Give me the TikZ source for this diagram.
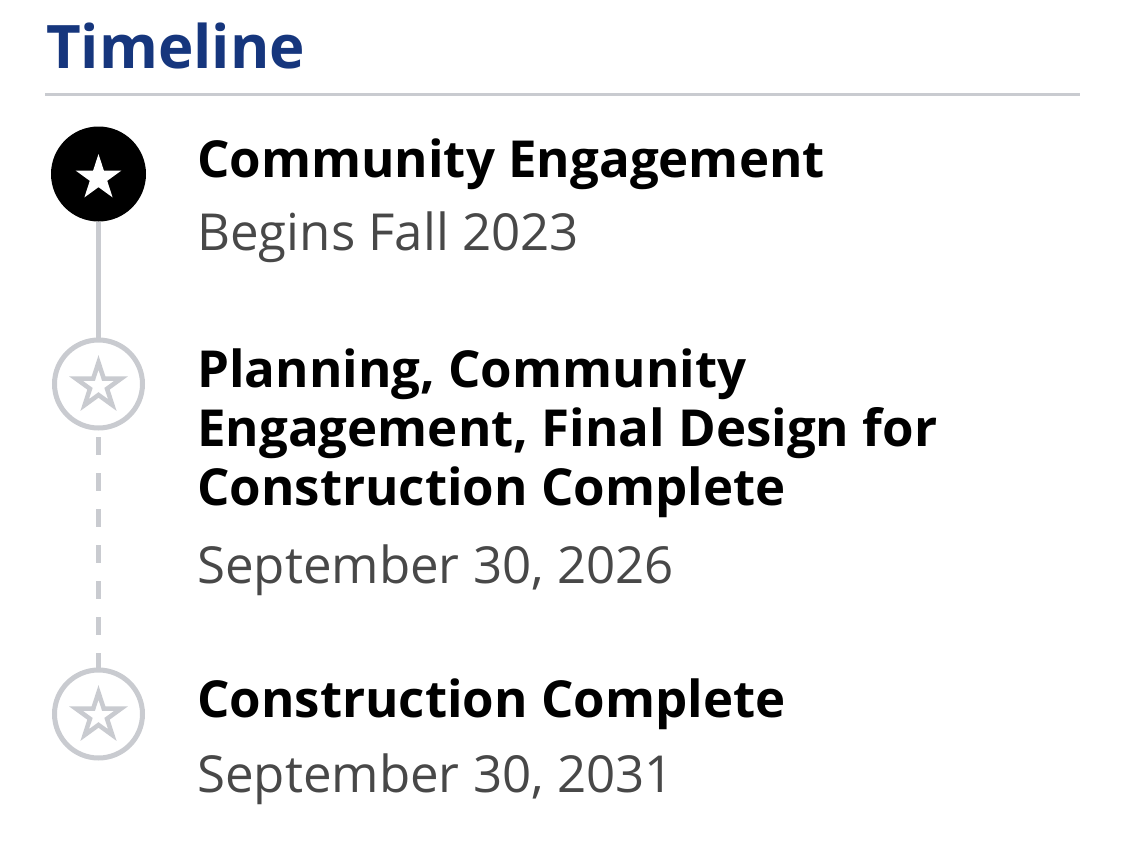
\documentclass[tikz,border=0pt]{standalone}
\usepackage{fontspec}
\setmainfont{Open Sans}
\usetikzlibrary{shapes.geometric}
\definecolor{titleblue}{RGB}{22,54,125}
\definecolor{railgray}{RGB}{201,203,208}
\definecolor{dategray}{RGB}{72,72,72}
\tikzset{
  titletext/.style={anchor=base west, inner sep=0pt, text=titleblue, font=\fontsize{60}{70}\selectfont\bfseries},
  headtext/.style={anchor=base west, inner sep=0pt, align=left, text=black, font=\fontsize{51}{59}\selectfont\bfseries},
  datetext/.style={anchor=base west, inner sep=0pt, text=dategray, font=\fontsize{51}{59}\selectfont},
  doneball/.style={circle, fill=black, minimum size=95pt, inner sep=0pt},
  todoball/.style={circle, draw=railgray, line width=5pt, fill=white, minimum size=88pt, inner sep=0pt},
  starmark/.style={star, star points=5, star point ratio=2.618, minimum size=48pt, inner sep=0pt},
  hollowstar/.style={starmark, draw=railgray, line width=4.5pt, minimum size=47pt},
  rail/.style={draw=railgray, line width=5.5pt},
}
\begin{document}
\begin{tikzpicture}[x=1pt,y=-1pt]
\useasboundingbox (0,0) rectangle (1125,843);
\node[titletext] (title) at (46,69) {Timeline};
\coordinate (ruleL) at (45,94.5);
\coordinate (ruleR) at (1080,94.5);
\draw[draw=railgray, line width=3.5pt] (ruleL) -- (ruleR);

\node[doneball] (c1) at (98.5,174) {};
\node[todoball] (c2) at (98.5,384) {};
\node[todoball] (c3) at (98.5,714) {};

\draw[rail] (c1.south) -- (c2.north);
\draw[rail, dash pattern=on 18pt off 18pt, dash phase=29.5pt] (c2.south) -- (c3.north);

\node[starmark, fill=white] (s1) at (98.5,178) {};
\node[hollowstar] (s2) at (98.5,386) {};
\node[hollowstar] (s3) at (98.5,716) {};

\node[headtext] (h1) at (197,177) {Community Engagement};
\node[datetext] (d1) at (197,250) {Begins Fall 2023};
\node[headtext] (h2) at (197,505) {Planning, Community\\Engagement, Final Design for\\Construction Complete};
\node[datetext] (d2) at (197,583) {September 30, 2026};
\node[headtext] (h3) at (197,717) {Construction Complete};
\node[datetext] (d3) at (197,792) {September 30, 2031};
\end{tikzpicture}
\end{document}
